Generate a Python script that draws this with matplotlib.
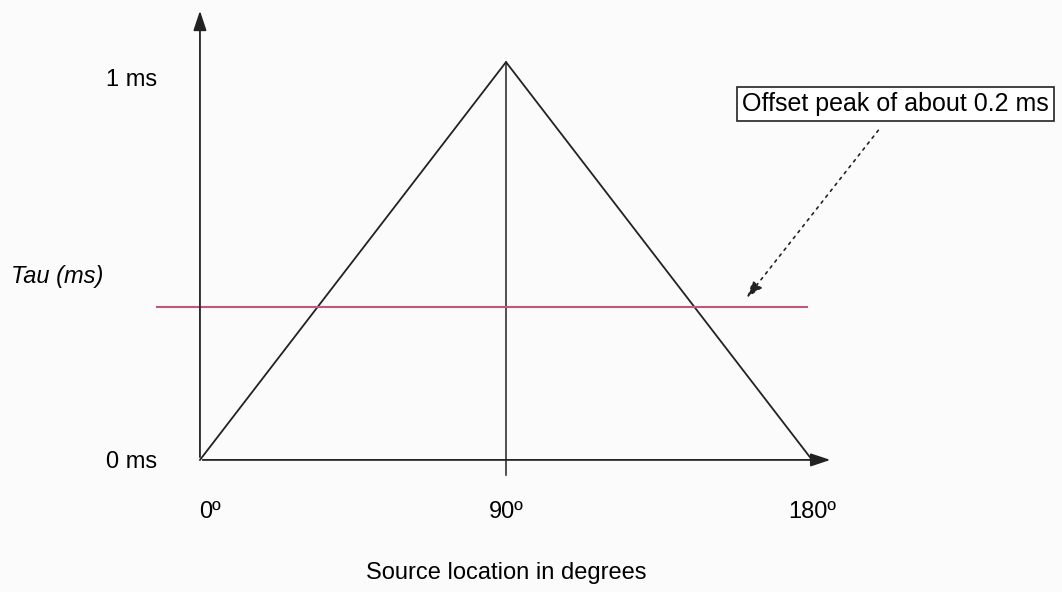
import matplotlib.pyplot as plt

# values
angles = [0, 90, 180]
tau = [0, 1, 0]
offset = 0.385
tick_angles = [0, 90, 180]
tick_labels = ["0º", "90º", "180º"]
tau_values = [0, 1]
tau_labels = ["0 ms", "1 ms"]

plt.rcParams['font.family'] = ['Liberation Sans', 'DejaVu Sans']

fig = plt.figure(figsize=(10.62, 5.92), dpi=100)
fig.patch.set_facecolor("#fbfbfb")
ax = fig.add_axes([0, 0, 1, 1])
ax.set_facecolor("#fbfbfb")
ax.set_xlim(-58.8, 253.5)
ax.set_ylim(-0.332, 1.156)
ax.axis("off")

# axes with arrows
ax.annotate("", xy=(0, 1.136), xytext=(0, 0),
            arrowprops=dict(arrowstyle="-|>,head_length=1.2,head_width=0.4", color="#222222", lw=1.3))
ax.annotate("", xy=(186.2, 0), xytext=(0, 0),
            arrowprops=dict(arrowstyle="-|>,head_length=1.2,head_width=0.4", color="#222222", lw=1.3))

# triangle and centre line
ax.plot(angles, tau, color="#222222", lw=1.3)
ax.plot([90, 90], [-0.038, 1], color="#222222", lw=1.1)

# offset line
ax.plot([-12.6, 178.5], [offset, offset], color="#c0587a", lw=1.5)

# labels
ax.text(-12.5, 0.956, tau_labels[1], ha="right", va="center", fontsize=17)
ax.text(-12.5, -0.005, tau_labels[0], ha="right", va="center", fontsize=17)
ax.text(-28.5, 0.46, "Tau (ms)", ha="right", va="center", fontsize=17, style="italic")
for a, lab in zip(tick_angles, tick_labels):
    ax.text(a + (3 if a == 0 else 0), -0.13, lab, ha="center", va="center", fontsize=17)
ax.text(90, -0.285, "Source location in degrees", ha="center", va="center", fontsize=17)

# annotation box with dotted arrow
ax.text(159.4, 0.894, "Offset peak of about 0.2 ms", ha="left", va="center", fontsize=18,
        bbox=dict(boxstyle="square,pad=0.2", fc="white", ec="#222222", lw=1.2))
ax.annotate("", xy=(160.3, 0.402), xytext=(200, 0.834),
            arrowprops=dict(arrowstyle="-|>,head_length=1.0,head_width=0.35",
                            color="#222222", lw=1.2, linestyle=(0, (1.5, 3))))

plt.savefig("out.png", dpi=100, facecolor=fig.get_facecolor())
